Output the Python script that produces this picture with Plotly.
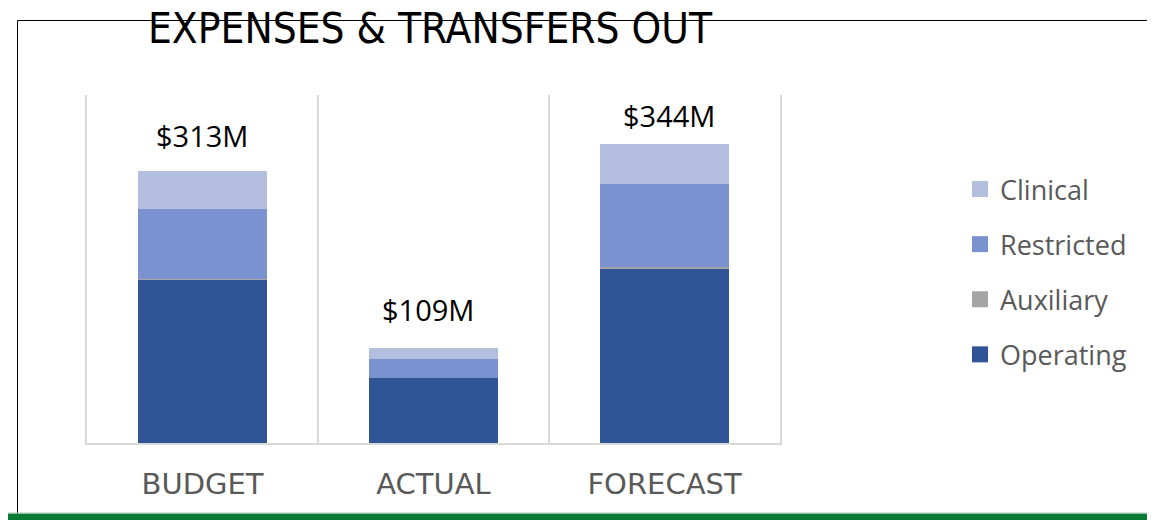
import plotly.graph_objects as go

categories = ["BUDGET", "ACTUAL", "FORECAST"]
operating = [188, 75, 201]
auxiliary = [1, 0, 1]
restricted = [80, 21, 96]
clinical = [44, 13, 46]
totals = [313, 109, 344]
total_labels = ["$313M", "$109M", "$344M"]
series_names = ["Operating", "Auxiliary", "Restricted", "Clinical"]
legend_names = ["Clinical", "Restricted", "Auxiliary", "Operating"]

# page body has an 8px margin; all pixel positions below are screen positions
OFF = 8
W, H = 1155 - OFF, 520 - OFF
PLOT_L, PLOT_R, PLOT_T, PLOT_B = 87 - OFF, 780 - OFF, 95 - OFF, 443 - OFF
L, R, T, B = PLOT_L, W - PLOT_R, PLOT_T, H - PLOT_B
PW, PH = PLOT_R - PLOT_L, PLOT_B - PLOT_T

def px_x(sx):
    return (sx - OFF - PLOT_L) / PW

def px_y(sy):
    return (PLOT_B - (sy - OFF)) / PH

colors = {
    "Operating": "#2F5597",
    "Auxiliary": "#A5A5A5",
    "Restricted": "#7A92CF",
    "Clinical": "#B4BFDF",
}

fig = go.Figure()
series_vals = {"Operating": operating, "Auxiliary": auxiliary,
               "Restricted": restricted, "Clinical": clinical}
for name in series_names:
    fig.add_trace(go.Bar(
        x=categories, y=series_vals[name], name=name, legendgroup=name, showlegend=False,
        marker=dict(color=colors[name], line=dict(width=0)),
        hoverinfo="name+y",
    ))
for name in legend_names:
    fig.add_trace(go.Scatter(
        x=[None], y=[None], mode="markers", name=name, legendgroup=name,
        marker=dict(symbol="square", size=16, color=colors[name], line=dict(width=0)),
        hoverinfo="skip",
    ))

label_font = dict(family="Open Sans, Liberation Sans, sans-serif", size=29, color="#000000")
yshifts = [14, 17, 7]
xshifts = [-1, -6, 4]
annotations = []
for c, t, lab, ys, xs in zip(categories, totals, total_labels, yshifts, xshifts):
    annotations.append(dict(x=c, y=t, xref="x", yref="y", text=lab, showarrow=False,
                            yanchor="bottom", yshift=ys, xshift=xs, font=label_font))

annotations.append(dict(
    x=px_x(146), y=px_y(29), xref="paper", yref="paper", xanchor="left", yanchor="middle",
    text="EXPENSES &amp; TRANSFERS OUT", showarrow=False,
    font=dict(family="Liberation Sans Narrow, DejaVu Sans Condensed, sans-serif", size=42, color="#000000"),
))

shapes = [
    dict(type="line", xref="paper", yref="paper", x0=px_x(17.5), x1=px_x(1170),
         y0=px_y(20.5), y1=px_y(20.5), line=dict(color="#000000", width=1), layer="below"),
    dict(type="line", xref="paper", yref="paper", x0=px_x(17.5), x1=px_x(17.5),
         y0=px_y(20.5), y1=px_y(530), line=dict(color="#000000", width=1)),
    dict(type="rect", xref="paper", yref="paper", x0=px_x(0), x1=px_x(1170),
         y0=px_y(513.5), y1=px_y(530), fillcolor="#0B7A35", line=dict(width=0), layer="above"),
    dict(type="line", xref="paper", yref="paper", x0=px_x(0), x1=px_x(1170),
         y0=px_y(513), y1=px_y(513), line=dict(color="#A8CDB5", width=1), layer="above"),
]

fig.update_layout(
    width=W, height=H,
    margin=dict(l=L, r=R, t=T, b=B, pad=0),
    paper_bgcolor="#FFFFFF", plot_bgcolor="#FFFFFF",
    barmode="stack", bargap=0.442,
    showlegend=True,
    legend=dict(
        x=px_x(960), y=px_y(165), xanchor="left", yanchor="top",
        traceorder="grouped", tracegroupgap=17,
        font=dict(family="Open Sans, Liberation Sans, sans-serif", size=27, color="#595959"),
        bgcolor="rgba(0,0,0,0)",
    ),
    xaxis=dict(
        type="category", tickson="boundaries", showgrid=True, gridcolor="#D9D9D9", gridwidth=2,
        showline=True, linecolor="#D9D9D9", linewidth=2, ticks="", ticklabelstandoff=14,
        tickfont=dict(family="DejaVu Sans, Open Sans, sans-serif", size=29, color="#595959"),
        range=[-0.5, 2.5], fixedrange=True,
    ),
    yaxis=dict(range=[0, 400], showticklabels=False, ticks="", showgrid=False, zeroline=False,
               showline=True, linecolor="#D9D9D9", linewidth=2, mirror=True, fixedrange=True),
    annotations=annotations,
    shapes=shapes,
)

fig.write_html("out.html")
